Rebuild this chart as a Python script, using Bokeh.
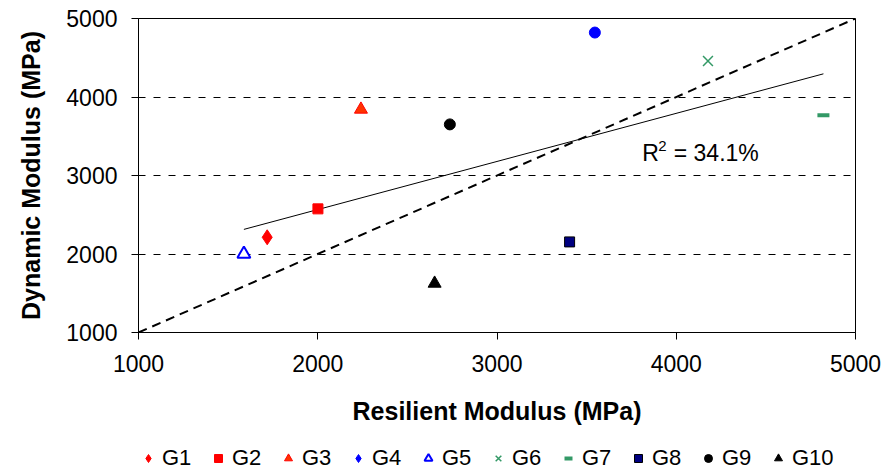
import numpy as np
from bokeh.plotting import figure
from bokeh.layouts import column
from bokeh.models import Legend, LegendItem, FixedTicker, Range1d
from bokeh.core.properties import value
from bokeh.embed import file_html
from bokeh.resources import INLINE

# ---- data ----
groups = ["G1", "G2", "G3", "G4", "G5", "G6", "G7", "G8", "G9", "G10"]
resilient = [1718, 2001, 2241, 3546, 1588, 4177, 4821, 3405, 2737, 2652]
dynamic = [2213, 2575, 3842, 4821, 2001, 4459, 3766, 2154, 3651, 1625]
x_ticks = [1000, 2000, 3000, 4000, 5000]
y_ticks = [1000, 2000, 3000, 4000, 5000]
equality = [1000, 5000]
r2_label = "34.1%"
r2_pos = (3811, 3281)

styles = [
    dict(marker="diamond", size=15, fill_color="#FF0000", line_color="#FF0000"),
    dict(marker="square", size=10, fill_color="#FF0000", line_color="#FF0000"),
    dict(marker="triangle", size=13, fill_color="#FF3300", line_color="#FF0000"),
    dict(marker="diamond", size=15, fill_color="#0000FF", line_color="#0000FF"),
    dict(marker="triangle", size=13, fill_color="#FFFFFF", line_color="#0000FF", line_width=2),
    dict(marker="x", size=14, fill_color=None, line_color="#339966", line_width=1.5),
    dict(marker="dash", size=12, fill_color=None, line_color="#339966", line_width=4),
    dict(marker="square", size=10, fill_color="#000080", line_color="#000000"),
    dict(marker="circle", size=11, fill_color="#000000", line_color="#000000"),
    dict(marker="triangle", size=13, fill_color="#000000", line_color="#000000"),
]
plot_markers = ["diamond", "square", "triangle", "circle", "triangle", "x", "dash", "square", "circle", "triangle"]

FONT = "Liberation Sans"

p = figure(width=888, height=430, output_backend="svg", toolbar_location=None,
           x_range=Range1d(1000, 5000), y_range=Range1d(1000, 5000),
           min_border_left=138, min_border_right=33, min_border_top=18, min_border_bottom=98)
p.background_fill_color = "white"
p.border_fill_color = "white"
p.outline_line_color = "black"
p.outline_line_width = 1

p.xgrid.visible = False
p.ygrid.ticker = FixedTicker(ticks=y_ticks[1:-1])
p.ygrid.grid_line_color = "black"
p.ygrid.grid_line_dash = "7 8"
p.ygrid.grid_line_width = 1

for ax, ticks in ((p.xaxis[0], x_ticks), (p.yaxis[0], y_ticks)):
    ax.ticker = FixedTicker(ticks=ticks)
    ax.minor_tick_line_color = None
    ax.major_tick_in = 0
    ax.major_tick_out = 7
    ax.axis_line_color = "black"
    ax.major_tick_line_color = "black"
    ax.major_label_text_font = FONT
    ax.major_label_text_font_size = "23px"
    ax.major_label_text_color = "black"
    ax.axis_label_text_font = FONT
    ax.axis_label_text_font_size = "25px"
    ax.axis_label_text_font_style = "bold"
    ax.axis_label_text_color = "black"

p.xaxis.axis_label = "Resilient Modulus (MPa)"
p.yaxis.axis_label = "Dynamic Modulus (MPa)"
p.xaxis.major_label_standoff = 15
p.yaxis.major_label_standoff = 14
p.xaxis.axis_label_standoff = 22
p.yaxis.axis_label_standoff = 18

p.line(equality, equality, line_color="black", line_width=2, line_dash="9 6")

slope, intercept = np.polyfit(resilient, dynamic, 1)
rx = np.array([min(resilient), max(resilient)])
p.line(rx, slope * rx + intercept, line_color="black", line_width=1)

for i, g in enumerate(groups):
    st = dict(styles[i])
    st["marker"] = plot_markers[i]
    if plot_markers[i] == "circle":
        st["size"] = 11
    p.scatter([resilient[i]], [dynamic[i]], **st)

p.text([r2_pos[0]], [r2_pos[1]], text=["R"], text_font=value(FONT), text_font_size="23px",
       text_baseline="middle", text_align="left", text_color="black")
p.text([r2_pos[0] + 88], [r2_pos[1] + 90], text=["2"], text_font=value(FONT), text_font_size="15px",
       text_baseline="middle", text_align="left", text_color="black")
p.text([r2_pos[0] + 175], [r2_pos[1]], text=["= " + r2_label], text_font=value(FONT), text_font_size="23px",
       text_baseline="middle", text_align="left", text_color="black")

# ---- legend strip ----
lg = figure(width=888, height=42, output_backend="svg", toolbar_location=None,
            x_axis_type=None, y_axis_type=None, min_border=0,
            x_range=Range1d(0, 1), y_range=Range1d(0, 1))
lg.outline_line_color = None
lg.background_fill_color = "white"
lg.border_fill_color = "white"
lg.xgrid.visible = False
lg.ygrid.visible = False

items = []
for i, g in enumerate(groups):
    lr = lg.scatter([np.nan], [np.nan], **styles[i])
    items.append(LegendItem(label=g, renderers=[lr]))

legend = Legend(items=items, orientation="horizontal", location=(0, 1))
legend.label_text_font = FONT
legend.label_text_font_size = "22px"
legend.label_text_color = "black"
legend.glyph_width = 20
legend.glyph_height = 20
legend.label_standoff = 4
legend.label_width = 40
legend.spacing = 6
legend.border_line_color = None
legend.background_fill_alpha = 0
legend.padding = 0
legend.margin = 0
lg.add_layout(legend, "center")

layout = column(p, lg, spacing=0)
open("out.html", "w").write(file_html(layout, INLINE))
